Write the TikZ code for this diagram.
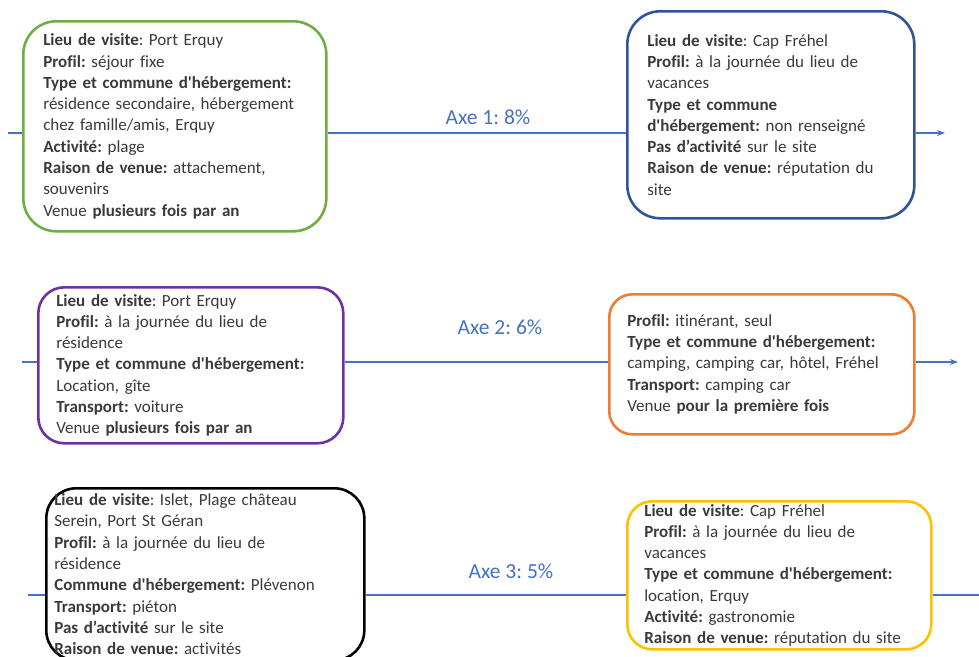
\documentclass[tikz,border=0pt]{standalone}
\usepackage{fontspec}
\setmainfont{Carlito}[Ligatures={NoCommon}]
\usetikzlibrary{arrows.meta,calc}
\frenchspacing

\definecolor{axeblue}{HTML}{4472C4}
\definecolor{vert}{HTML}{70AD47}
\definecolor{bleu}{HTML}{2F5597}
\definecolor{violet}{HTML}{7030A0}
\definecolor{orange}{HTML}{ED7D31}
\definecolor{jaune}{HTML}{FFC000}
\definecolor{texte}{HTML}{3A3A3A}

\newcommand{\apos}{\textquotesingle}

\begin{document}
\begin{tikzpicture}[x=1pt,y=-1pt,
  profil/.style={draw,fill=white,line width=2.6pt,rounded corners=30pt,
    anchor=north west,align=left,inner ysep=0pt,text=texte,
    font=\fontsize{17}{21.3}\selectfont},
  axe/.style={draw=axeblue,line width=1.3pt},
  axelab/.style={text=axeblue,font=\fontsize{21.5}{25}\selectfont}]

\useasboundingbox (0,0) rectangle (979,656);
\clip (0,0) rectangle (979,656);

% Profils de gauche
\node[profil,draw=vert,rounded corners=33pt,text width=263pt,inner xsep=20pt,minimum height=210pt] (gauche1) at (22,20)
{\textbf{Lieu de visite}: Port Erquy\\
\textbf{Profil:} séjour fixe\\
\textbf{Type et commune d\apos hébergement:}\\
résidence secondaire, hébergement\\
chez famille/amis, Erquy\\
\textbf{Activité:} plage\\
\textbf{Raison de venue:} attachement,\\
souvenirs\\
Venue \textbf{plusieurs fois par an}};

\node[profil,draw=violet,rounded corners=26pt,text width=269pt,inner xsep=18pt,minimum height=156pt] (gauche2) at (37,286)
{\textbf{Lieu de visite}: Port Erquy\\
\textbf{Profil:} à la journée du lieu de\\
résidence\\
\textbf{Type et commune d\apos hébergement:}\\
Location, gîte\\
\textbf{Transport:} voiture\\
Venue \textbf{plusieurs fois par an}};

\node[profil,draw=black,rounded corners=30pt,text width=302pt,inner xsep=8pt,minimum height=172pt] (gauche3) at (45,487)
{\textbf{Lieu de visite}: Islet, Plage château\\
Serein, Port St Géran\\
\textbf{Profil:} à la journée du lieu de\\
résidence\\
\textbf{Commune d\apos hébergement:} Plévenon\\
\textbf{Transport:} piéton\\
\textbf{Pas d’activité} sur le site\\
\textbf{Raison de venue:} activités};

% Profils de droite
\node[profil,draw=bleu,rounded corners=33pt,text width=247pt,inner xsep=20pt,minimum height=207pt] (droite1) at (626,10)
{\textbf{Lieu de visite}: Cap Fréhel\\
\textbf{Profil:} à la journée du lieu de\\
vacances\\
\textbf{Type et commune}\\
\textbf{d\apos hébergement:} non renseigné\\
\textbf{Pas d’activité} sur le site\\
\textbf{Raison de venue:} réputation du\\
site};

\node[profil,draw=orange,rounded corners=23pt,text width=269pt,inner xsep=18pt,minimum height=140pt] (droite2) at (608,293)
{\textbf{Profil:} itinérant, seul\\
\textbf{Type et commune d\apos hébergement:}\\
camping, camping car, hôtel, Fréhel\\
\textbf{Transport:} camping car\\
Venue \textbf{pour la première fois}};

\node[profil,draw=jaune,rounded corners=25pt,text width=270pt,inner xsep=17pt,minimum height=148pt] (droite3) at (626,500)
{\textbf{Lieu de visite}: Cap Fréhel\\
\textbf{Profil:} à la journée du lieu de\\
vacances\\
\textbf{Type et commune d\apos hébergement:}\\
location, Erquy\\
\textbf{Activité:} gastronomie\\
\textbf{Raison de venue:} réputation du site};

% Axes
\foreach \i/\y/\xs/\xe in {1/133/8/945, 2/362/22/958, 3/595/28/995}
{
\coordinate (debut\i) at (\xs,\y);
\coordinate (fin\i) at (\xe,\y);
\draw[axe] (debut\i) -- (debut\i -| gauche\i.west);
\draw[axe] (debut\i -| gauche\i.east) -- (debut\i -| droite\i.west);
\draw[axe,-{Stealth[length=8pt,width=6pt]}] (debut\i -| droite\i.east) -- (fin\i);
}

\node[axelab] (axe1) at (488,117) {Axe 1: 8\%};
\node[axelab] (axe2) at (500,327) {Axe 2: 6\%};
\node[axelab] (axe3) at (511,571) {Axe 3: 5\%};

\end{tikzpicture}
\end{document}
